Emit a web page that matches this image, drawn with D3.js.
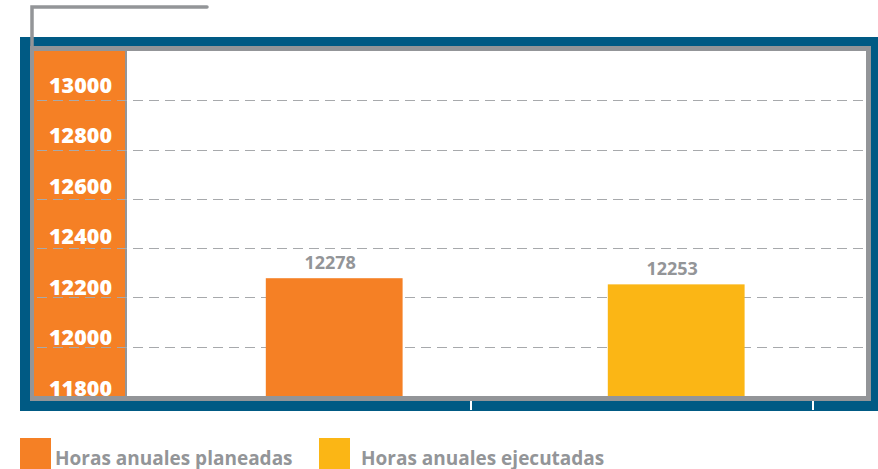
<!DOCTYPE html>
<html>
<head>
<meta charset="utf-8">
<script src="https://cdn.jsdelivr.net/npm/d3@7"></script>
<style>
  body { margin: 0; background: #fff; }
  svg { display: block; font-family: "Open Sans", "DejaVu Sans", sans-serif; }
</style>
</head>
<body>
<svg id="chart" width="878" height="469"></svg>
<script>
// chart data
const categories = ['Horas anuales planeadas', 'Horas anuales ejecutadas'];
const hours = [12278, 12253];
const yTicks = [11800, 12000, 12200, 12400, 12600, 12800, 13000];
const barColors = ['#f58025', '#fbb615'];

const blue = '#005a84', grey = '#939598', dash = '#a7a9ac';

const svg = d3.select('#chart');

// plot box
const plot = { left: 127, right: 866, top: 51, bottom: 396 };

// frame: blue outer, grey border, orange axis strip, white plot
svg.append('rect').attr('x', 20).attr('y', 37).attr('width', 858).attr('height', 374).attr('fill', blue);
svg.append('rect').attr('x', 30).attr('y', 46).attr('width', 841).attr('height', 355).attr('fill', grey);
svg.append('rect').attr('x', 34).attr('y', plot.top).attr('width', 91).attr('height', plot.bottom - plot.top).attr('fill', barColors[0]);
svg.append('rect').attr('x', plot.left).attr('y', plot.top).attr('width', plot.right - plot.left).attr('height', plot.bottom - plot.top).attr('fill', '#fff');

// grey hook line at top left
svg.append('path')
    .attr('d', 'M32,46 V7 H207')
    .attr('fill', 'none')
    .attr('stroke', grey)
    .attr('stroke-width', 3.5)
    .attr('stroke-linecap', 'round');

// scales
const y = d3.scaleLinear()
    .domain([11800, 13200])
    .range([plot.bottom, plot.top]);

// labels in the strip sit a bit off the gridlines, as in the original
const yLabel = d3.scaleLinear()
    .domain([11800, 13000])
    .range([395, 92]);

const x = d3.scaleBand()
    .domain(categories)
    .range([129, 813])
    .paddingInner(0);

// dashed gridlines
svg.append('g')
    .selectAll('line')
    .data(yTicks.slice(1))
    .enter()
    .append('line')
    .attr('x1', 37)
    .attr('x2', plot.right)
    .attr('y1', d => Math.round(y(d)) + 0.5)
    .attr('y2', d => Math.round(y(d)) + 0.5)
    .attr('stroke', dash)
    .attr('stroke-width', 1.2)
    .attr('stroke-dasharray', '10,6');

// y axis labels (white on orange strip)
const yAxis = svg.append('g')
    .attr('transform', 'translate(112,0)')
    .call(d3.axisLeft(yLabel).tickValues(yTicks).tickSize(0).tickPadding(0).tickFormat(d3.format('d')));
yAxis.select('.domain').remove();
yAxis.selectAll('text')
    .attr('dy', null)
    .attr('y', 0)
    .attr('fill', '#fff')
    .style('font-size', '21.5px')
    .style('font-weight', 800)
    .style('font-family', '"Open Sans", sans-serif');

// bars
const barW = x.step() * 0.4;
svg.append('g')
    .selectAll('rect')
    .data(hours)
    .enter()
    .append('rect')
    .attr('x', (d, i) => x(categories[i]) + barW)
    .attr('y', d => y(d))
    .attr('width', barW)
    .attr('height', d => plot.bottom - y(d))
    .attr('fill', (d, i) => barColors[i]);

// value labels
svg.append('g')
    .selectAll('text')
    .data(hours)
    .enter()
    .append('text')
    .attr('x', (d, i) => x(categories[i]) + barW * 1.5 - 4)
    .attr('y', d => y(d) - 9)
    .attr('text-anchor', 'middle')
    .attr('fill', grey)
    .style('font-size', '18px')
    .style('font-weight', 700)
    .text(d => d);

// small white ticks on the bottom frame
svg.append('g')
    .selectAll('line')
    .data(categories)
    .enter()
    .append('line')
    .attr('x1', d => x(d) + x.step())
    .attr('x2', d => x(d) + x.step())
    .attr('y1', 401)
    .attr('y2', 410)
    .attr('stroke', '#fff')
    .attr('stroke-width', 2);

// legend
const legendX = [20, 319];
const legend = svg.append('g')
    .selectAll('g')
    .data(categories)
    .enter()
    .append('g')
    .attr('transform', (d, i) => `translate(${legendX[i]},438)`);

legend.append('rect')
    .attr('width', 31)
    .attr('height', 31)
    .attr('fill', (d, i) => barColors[i]);

legend.append('text')
    .attr('x', (d, i) => i === 0 ? 35 : 42)
    .attr('y', 27)
    .attr('fill', grey)
    .style('font-size', '19px')
    .style('font-weight', 700)
    .text(d => d);
</script>
</body>
</html>
